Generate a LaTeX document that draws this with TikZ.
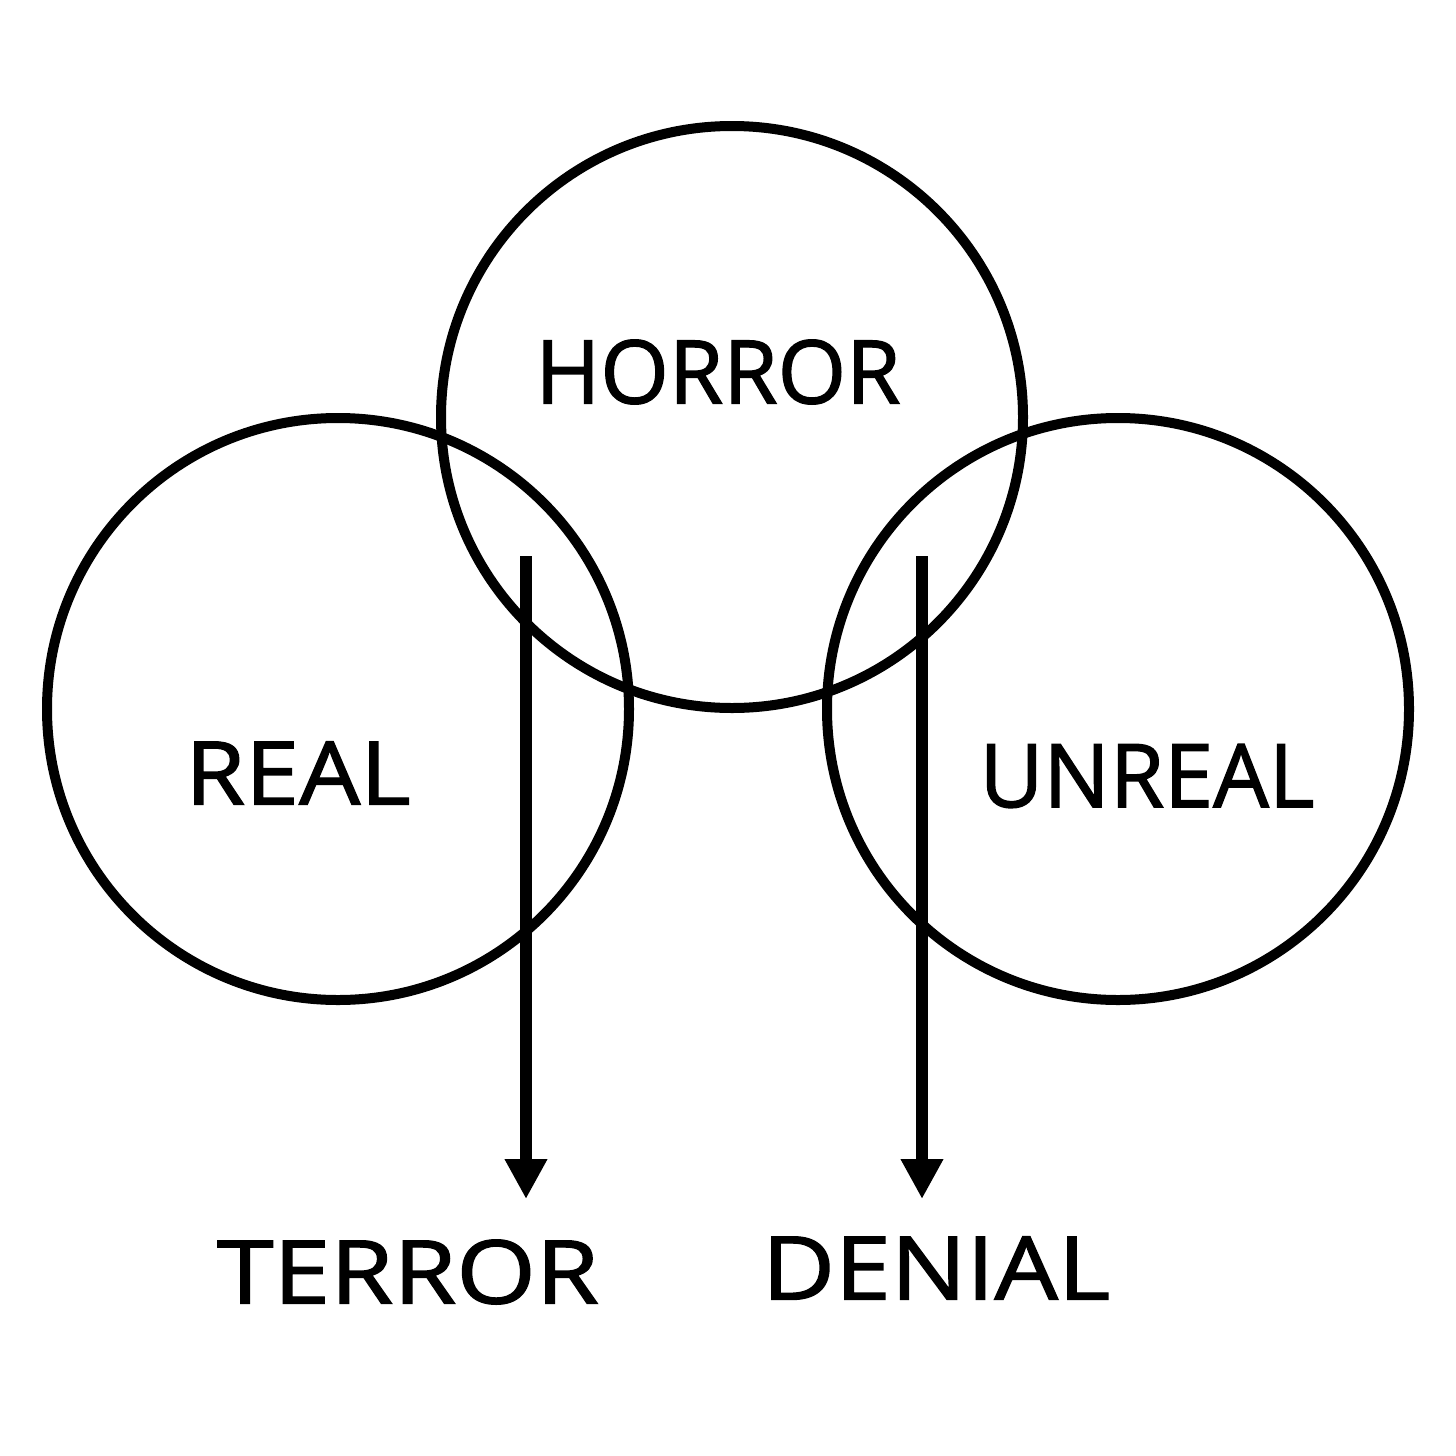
\documentclass[tikz,border=0pt]{standalone}
\usepackage{fontspec}
\setmainfont{Open Sans}[FakeBold=1.5]
\usetikzlibrary{arrows.meta}
\tikzset{
  ring/.style={draw=black, line width=10pt, circle, minimum size=582pt, inner sep=0pt},
  lbl/.style={font=\fontsize{88}{88}\selectfont, inner sep=0pt, anchor=center},
  flow/.style={line width=12pt, -{Triangle[length=40pt,width=40pt]}}
}
\begin{document}
\begin{tikzpicture}[x=1pt,y=-1pt]
\useasboundingbox (0,0) rectangle (1456,1456);
\node[ring] (horror) at (732,417) {};
\node[ring] (real) at (338,709) {};
\node[ring] (unreal) at (1118,709) {};
\node[lbl] (thorror) at (718,372) {HORROR};
\node[lbl, xscale=1.1] (treal) at (298,773) {REAL};
\node[lbl] (tunreal) at (1147,776) {UNREAL};
\node[lbl, xscale=1.16] (tterror) at (408,1272) {TERROR};
\node[lbl, xscale=1.14] (tdenial) at (936,1268) {DENIAL};
\coordinate (a1) at (526,556);
\coordinate (b1) at (526,1199);
\coordinate (a2) at (922,556);
\coordinate (b2) at (922,1199);
\draw[flow] (a1) -- (b1);
\draw[flow] (a2) -- (b2);
\end{tikzpicture}
\end{document}
